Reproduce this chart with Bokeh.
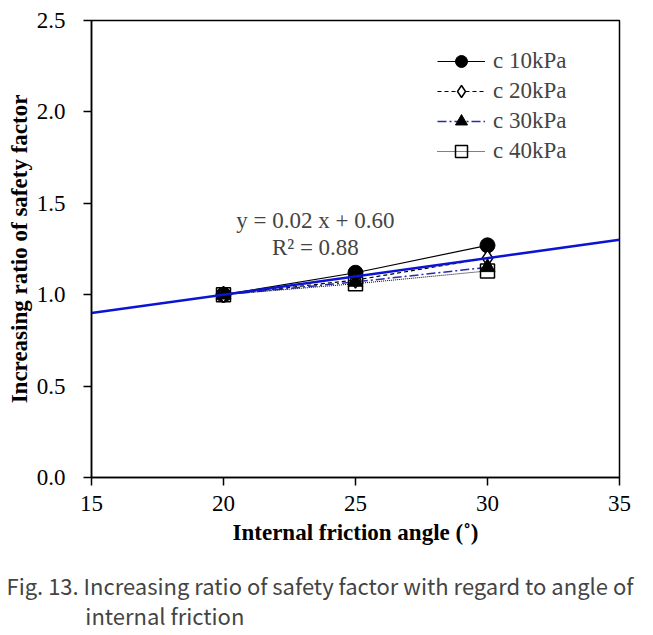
from bokeh.plotting import figure
from bokeh.models import Legend, LegendItem, Label, Title, Range1d, FixedTicker, PrintfTickFormatter
from bokeh.embed import file_html
from bokeh.resources import INLINE

angles = [20, 25, 30]
c10 = [1.00, 1.12, 1.27]
c20 = [1.00, 1.08, 1.20]
c30 = [1.00, 1.07, 1.15]
c40 = [1.00, 1.06, 1.13]
trend_x = [15, 35]
slope, intercept = 0.02, 0.60
trend_y = [slope * x + intercept for x in trend_x]
x_ticks = [15, 20, 25, 30, 35]
y_ticks = [0.0, 0.5, 1.0, 1.5, 2.0, 2.5]
caption_line1 = "Fig. 13. Increasing ratio of safety factor with regard to angle of"
caption_line2 = "internal friction"

SERIF = "Liberation Serif"
CAPTION_FONT = "Noto Sans CJK KR"

p = figure(frame_width=528, frame_height=457, output_backend="svg", toolbar_location=None,
           x_range=Range1d(15, 35), y_range=Range1d(0, 2.5),
           min_border_left=91, min_border_right=26, min_border_top=20, min_border_bottom=0)
p.grid.visible = False
p.outline_line_color = "black"
p.outline_line_width = 1.5

for ax in (p.xaxis[0], p.yaxis[0]):
    ax.major_label_text_font = SERIF
    ax.major_label_text_font_size = "23px"
    ax.major_label_text_color = "black"
    ax.axis_label_text_font = SERIF
    ax.axis_label_text_font_size = "23px"
    ax.axis_label_text_font_style = "bold"
    ax.axis_label_text_color = "black"
    ax.axis_line_width = 1.5
    ax.major_tick_line_width = 1.5
    ax.major_tick_out = 8
    ax.major_tick_in = 0
    ax.minor_tick_line_color = None
p.xaxis[0].ticker = FixedTicker(ticks=x_ticks)
p.yaxis[0].ticker = FixedTicker(ticks=y_ticks)
p.yaxis[0].formatter = PrintfTickFormatter(format="%.1f")
p.xaxis[0].axis_label = "Internal friction angle (˚)"
p.yaxis[0].axis_label = "Increasing ratio of safety factor"
p.xaxis[0].major_label_standoff = 10
p.yaxis[0].major_label_standoff = 18
p.xaxis[0].axis_label_standoff = 6
p.yaxis[0].axis_label_standoff = 2

l1 = p.line(angles, c10, line_color="black", line_width=1.2)
m1 = p.scatter(angles, c10, marker="circle", size=15, fill_color="black", line_color="black")
l2 = p.line(angles, c20, line_color="black", line_width=1.2, line_dash="4 3")
m2 = p.scatter(angles, c20, marker="diamond", size=16, fill_color="white", line_color="black", line_width=1.5)
l3 = p.line(angles, c30, line_color="#2a2ab0", line_width=1.5, line_dash="9 3 2 3")
m3 = p.scatter(angles, c30, marker="triangle", size=15, fill_color="black", line_color="black")
l4 = p.line(angles, c40, line_color="black", line_width=1, line_dash="1 1")
m4 = p.scatter(angles, c40, marker="square", size=14, fill_alpha=0, line_color="black", line_width=1.5)
p.line(trend_x, trend_y, line_color="#0a14d2", line_width=2.5)

legend = Legend(items=[
    LegendItem(label="c 10kPa", renderers=[l1, m1]),
    LegendItem(label="c 20kPa", renderers=[l2, m2]),
    LegendItem(label="c 30kPa", renderers=[l3, m3]),
    LegendItem(label="c 40kPa", renderers=[l4, m4]),
], location=(346, 311), border_line_color=None, background_fill_alpha=0,
   label_text_font=SERIF, label_text_font_size="23px", glyph_width=48, glyph_height=30,
   spacing=0, label_standoff=8, padding=4, margin=0)
p.add_layout(legend, "center")

p.add_layout(Label(x=23.48, y=1.406, text="y = 0.02 x + 0.60", text_font=SERIF, text_font_size="23px",
                   text_align="center", text_baseline="middle"))
p.add_layout(Label(x=23.48, y=1.258, text="R² = 0.88", text_font=SERIF, text_font_size="23px",
                   text_align="center", text_baseline="middle"))

caption = Title(text=caption_line1 + "\n" + "\u00a0" * 16 + caption_line2, align="left",
                text_font=CAPTION_FONT, text_font_size="22px", text_font_style="normal",
                text_line_height=0.95, offset=-85, standoff=39)
p.add_layout(caption, "below")

open("out.html", "w").write(file_html(p, INLINE))
